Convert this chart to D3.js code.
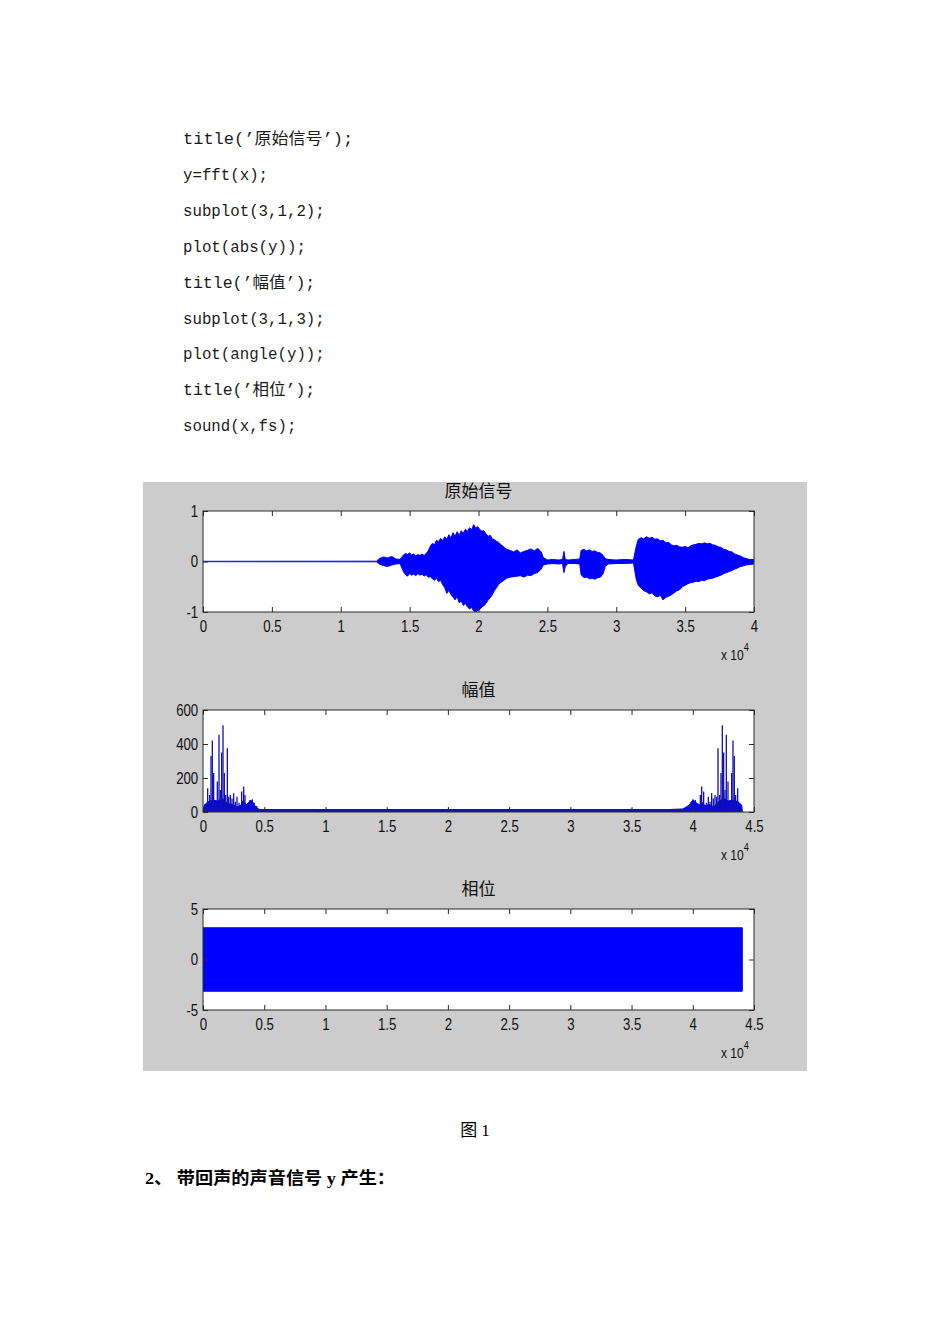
<!DOCTYPE html>
<html><head><meta charset="utf-8">
<script src="https://cdn.jsdelivr.net/npm/d3@7"></script>
<style>body{margin:0;background:#fff}</style>
</head><body>
<svg id="c" width="950" height="1344"></svg>
<script>
// ---------- data ----------
const codeLines = ["title(’原始信号’);","y=fft(x);","subplot(3,1,2);","plot(abs(y));","title(’幅值’);","subplot(3,1,3);","plot(angle(y));","title(’相位’);","sound(x,fs);"];
const codeUnits = [18,9,15,13,14,15,15,14,12];
const titles = ["原始信号","幅值","相位"];
const caption = "图 1";
const heading = "2、 带回声的声音信号 y 产生：";

// waveform envelope (sample index, upper, lower)
const sigX  = [0,12600,12800,13100,13400,13700,14000,14300,
  14550,14700,14850,15000,15150,15300,15450,15600,15750,15900,16050,16200,16350,
  16500,16650,16800,16950,17100,17250,17400,17550,17700,17850,18000,18150,18300,18450,18600,18750,18900,19050,19200,19350,19500,19650,19800,19950,20100,20250,20400,20550,20700,20850,21000,21150,21300,21450,21600,21750,21900,
  22050,22300,22550,22800,23050,23300,23550,23800,24050,24300,24550,24700,
  25000,25400,25800,26100,26200,26300,26500,27000,27350,
  27450,27650,27850,28050,28250,28450,28650,28850,29050,29200,29400,
  30000,30600,31250,
  31450,31600,31800,32000,32200,32400,32600,32800,33000,33200,33400,33600,33800,34000,34200,34400,34600,34800,35000,35200,35400,35600,35800,36000,36200,36400,36600,36800,37000,37200,37400,37600,37800,38000,38200,38400,38600,38800,39000,39200,39400,39700,40000];
const sigHi = [0.004,0.006,0.06,0.09,0.07,0.1,0.05,0.04,
  0.13,0.16,0.14,0.17,0.13,0.15,0.11,0.14,0.12,0.15,0.12,0.16,0.21,
  0.3,0.36,0.33,0.42,0.39,0.46,0.41,0.49,0.44,0.53,0.46,0.57,0.5,0.59,0.52,0.61,0.56,0.64,0.6,0.67,0.63,0.73,0.66,0.69,0.63,0.6,0.61,0.54,0.5,0.52,0.45,0.43,0.4,0.38,0.34,0.31,0.27,
  0.24,0.22,0.19,0.23,0.17,0.2,0.22,0.25,0.21,0.26,0.19,0.08,
  0.03,0.04,0.03,0.04,0.2,0.04,0.03,0.04,0.05,
  0.22,0.24,0.21,0.23,0.2,0.21,0.18,0.17,0.12,0.06,0.04,
  0.03,0.04,0.03,
  0.3,0.44,0.47,0.45,0.49,0.46,0.48,0.44,0.45,0.41,0.42,0.37,0.38,0.33,0.31,0.32,0.29,0.28,0.3,0.27,0.31,0.33,0.34,0.36,0.35,0.37,0.35,0.36,0.33,0.32,0.29,0.28,0.24,0.23,0.2,0.19,0.15,0.13,0.11,0.08,0.06,0.04,0.04];
const sigLo = [-0.004,-0.006,-0.05,-0.08,-0.1,-0.07,-0.05,-0.04,
  -0.2,-0.26,-0.29,-0.24,-0.27,-0.25,-0.28,-0.24,-0.27,-0.25,-0.29,-0.26,-0.31,
  -0.3,-0.34,-0.37,-0.33,-0.4,-0.37,-0.46,-0.52,-0.63,-0.57,-0.66,-0.7,-0.76,-0.69,-0.82,-0.78,-0.87,-0.83,-0.9,-0.94,-0.91,-0.98,-1.0,-0.97,-0.95,-0.9,-0.87,-0.83,-0.76,-0.72,-0.66,-0.58,-0.52,-0.46,-0.42,-0.39,-0.36,
  -0.33,-0.31,-0.3,-0.29,-0.28,-0.31,-0.27,-0.28,-0.24,-0.22,-0.15,-0.07,
  -0.05,-0.04,-0.05,-0.04,-0.22,-0.1,-0.04,-0.04,-0.05,
  -0.26,-0.32,-0.31,-0.34,-0.33,-0.35,-0.32,-0.31,-0.24,-0.1,-0.05,
  -0.04,-0.04,-0.03,
  -0.35,-0.47,-0.53,-0.58,-0.6,-0.64,-0.62,-0.68,-0.7,-0.67,-0.76,-0.71,-0.69,-0.66,-0.62,-0.58,-0.56,-0.5,-0.47,-0.44,-0.42,-0.41,-0.39,-0.4,-0.37,-0.38,-0.35,-0.34,-0.33,-0.31,-0.29,-0.27,-0.24,-0.22,-0.2,-0.18,-0.15,-0.13,-0.1,-0.09,-0.07,-0.06,-0.05];

// |fft| : dense low-level base and individual peaks
const specBaseX = [0,100,400,800,1200,1600,2000,2400,2800,3100,3300,3500,3700,3900,4100,4300,4600,5000,6000,6500,7000,7600,8000,8500,9000,9500,10000,10300,34000,34200,35000,35500,36000,36600,37500,38500,39200,39700,40000,40300,40500,40800,41000,41300,41700,42100,42500,42900,43300,43700,44000,44046];
const specBaseY = [0,40,60,70,65,80,50,45,30,40,70,40,55,70,55,30,15,12,10,14,9,12,8,14,15,13,14,3,4,12,16,10,8,14,12,16,18,40,70,55,40,55,35,45,30,60,80,65,70,60,40,0];
const specPeakX = [163,381,545,653,762,871,1034,1170,1307,1416,1524,1633,1742,1851,1987,2096,2232,2368,2504,2640,2776,2940,3158,3321,3430,3620,3838,4029,4192,4383,
                   39663,39854,40017,40208,40426,40616,40725,40888,41106,41270,41406,41542,41678,41814,41950,42059,42195,42304,42413,42522,42630,42739,42876,43012,43175,43284,43393,43501,43665,43883];
const specPeakY = [45,140,100,330,420,230,60,180,455,130,350,510,230,100,375,90,100,80,110,60,90,55,120,150,100,50,70,75,55,35,
                   35,55,75,70,50,100,150,120,55,90,60,110,80,100,90,375,100,230,510,350,130,455,180,60,230,420,330,100,140,45];

// angle(fft)
const phaseX  = [0,44046];
const phaseHi = [3.1416,3.1416];
const phaseLo = [-3.1416,-3.1416];

// axes ticks
const sigXTicks = [0,5000,10000,15000,20000,25000,30000,35000,40000];
const sigXLabels = ["0","0.5","1","1.5","2","2.5","3","3.5","4"];
const sigYTicks = [-1,0,1];
const specXTicks = [0,5000,10000,15000,20000,25000,30000,35000,40000,45000];
const specXLabels = ["0","0.5","1","1.5","2","2.5","3","3.5","4","4.5"];
const specYTicks = [0,200,400,600];
const phaseYTicks = [-5,0,5];

// ---------- drawing ----------
const svg = d3.select("#c");
svg.append("rect").attr("width",950).attr("height",1344).attr("fill","#fff");

// code text
const codeG = svg.append("g");
codeLines.forEach((t,i)=>{
  codeG.append("text").attr("x",183).attr("y",144+i*35.9)
    .attr("font-family","'Liberation Mono','Noto Sans CJK SC',monospace")
    .attr("font-size",16).attr("fill","#1a1a1a")
    .attr("textLength",codeUnits[i]*9.45).attr("lengthAdjust","spacingAndGlyphs")
    .text(t);
});

// figure background
svg.append("rect").attr("x",143).attr("y",482).attr("width",664).attr("height",589).attr("fill","#cccccc");

const L=203, R=754;
const panels = [
  {top:511,bot:612,xd:[0,40000],yd:[-1,1],xt:sigXTicks,xl:sigXLabels,yt:sigYTicks,title:titles[0]},
  {top:710,bot:812,xd:[0,45000],yd:[0,600],xt:specXTicks,xl:specXLabels,yt:specYTicks,title:titles[1]},
  {top:909,bot:1010,xd:[0,45000],yd:[-5,5],xt:specXTicks,xl:specXLabels,yt:phaseYTicks,title:titles[2]}
];
const BLUE="#0000ff";
const SX=0.8;
const FONT="'Liberation Sans',Arial,sans-serif";

panels.forEach((p,pi)=>{
  const x=d3.scaleLinear().domain(p.xd).range([L,R]);
  const y=d3.scaleLinear().domain(p.yd).range([p.bot,p.top]);
  const g=svg.append("g");
  g.append("rect").attr("x",L).attr("y",p.top).attr("width",R-L).attr("height",p.bot-p.top).attr("fill","#fff");
  const clip="clip"+pi;
  g.append("clipPath").attr("id",clip).append("rect").attr("x",L).attr("y",p.top).attr("width",R-L).attr("height",p.bot-p.top);
  const dg=g.append("g").attr("clip-path","url(#"+clip+")");

  if(pi===0){
    const pts=sigX.map((v,i)=>[v,sigHi[i],sigLo[i]]);
    dg.append("path").datum(pts)
      .attr("d",d3.area().x(d=>x(d[0])).y0(d=>y(d[2])).y1(d=>y(d[1])))
      .attr("fill",BLUE).attr("stroke",BLUE).attr("stroke-width",1);
    dg.append("path").datum(pts.slice(0,2))
      .attr("d",d3.line().x(d=>x(d[0])).y(()=>y(0))).attr("stroke","#2b2bb0").attr("stroke-width",1.2).attr("fill","none");
  } else if(pi===1){
    const base=specBaseX.map((v,i)=>[v,specBaseY[i]]);
    dg.append("path").datum(base)
      .attr("d",d3.area().x(d=>x(d[0])).y0(y(0)).y1(d=>y(d[1])))
      .attr("fill",BLUE).attr("stroke",BLUE).attr("stroke-width",1);
    const ends=[specBaseX[0],specBaseX[specBaseX.length-1]];
    dg.append("path").datum(ends)
      .attr("d",d3.line().x(d=>x(d)).y(()=>y(0)-1.5))
      .attr("stroke","#1515a8").attr("stroke-width",3).attr("fill","none");
    dg.selectAll("line.pk").data(specPeakX.map((v,i)=>[v,specPeakY[i]])).join("line")
      .attr("x1",d=>x(d[0])).attr("x2",d=>x(d[0]))
      .attr("y1",y(0)).attr("y2",d=>y(d[1]))
      .attr("stroke","#1010b4").attr("stroke-width",1.3);
  } else {
    const pts=phaseX.map((v,i)=>[v,phaseHi[i],phaseLo[i]]);
    dg.append("path").datum(pts)
      .attr("d",d3.area().x(d=>x(d[0])).y0(d=>y(d[2])).y1(d=>y(d[1])))
      .attr("fill",BLUE).attr("stroke",BLUE).attr("stroke-width",1);
  }

  const fmtX=(d)=>p.xl[p.xt.indexOf(d)];
  const styleAxis=(ag)=>{ag.select(".domain").remove();ag.selectAll("line").attr("stroke","#2a2a2a");};
  const bx=g.append("g").attr("transform",`translate(0,${p.bot})`)
    .call(d3.axisBottom(x).tickValues(p.xt).tickFormat(fmtX).tickSizeInner(-5).tickSizeOuter(0).tickPadding(8));
  styleAxis(bx);
  bx.selectAll("text").attr("font-family",FONT).attr("font-size",16.5).attr("fill","#111").attr("transform",`scale(${SX},1)`);
  const tx=g.append("g").attr("transform",`translate(0,${p.top})`)
    .call(d3.axisTop(x).tickValues(p.xt).tickFormat("").tickSizeInner(-5).tickSizeOuter(0));
  styleAxis(tx);
  const ly=g.append("g").attr("transform",`translate(${L},0)`)
    .call(d3.axisLeft(y).tickValues(p.yt).tickFormat(d=>String(d)).tickSizeInner(-5).tickSizeOuter(0).tickPadding(6));
  styleAxis(ly);
  ly.selectAll("text").attr("font-family",FONT).attr("font-size",16.5).attr("fill","#111").attr("transform",`scale(${SX},1)`);
  const ry=g.append("g").attr("transform",`translate(${R},0)`)
    .call(d3.axisRight(y).tickValues(p.yt).tickFormat("").tickSizeInner(-5).tickSizeOuter(0));
  styleAxis(ry);

  g.append("rect").attr("x",L).attr("y",p.top).attr("width",R-L).attr("height",p.bot-p.top)
    .attr("fill","none").attr("stroke","#2a2a2a").attr("stroke-width",1);

  g.append("text").attr("x",(L+R)/2).attr("y",p.top-14).attr("text-anchor","middle")
    .attr("font-family","'Noto Sans CJK SC',sans-serif").attr("font-size",17).attr("fill","#111").text(p.title);

  const ex=g.append("text").attr("transform",`translate(721,${p.bot+48}) scale(${SX},1)`)
    .attr("font-family",FONT).attr("font-size",15).attr("fill","#111");
  ex.append("tspan").text("x 10");
  ex.append("tspan").attr("dy",-9).attr("font-size",11.5).text("4");
});

svg.append("text").attr("x",475).attr("y",1136).attr("text-anchor","middle")
  .attr("font-family","'Liberation Serif','Noto Sans CJK SC',serif").attr("font-size",17).attr("fill","#000").text(caption);
svg.append("text").attr("x",145).attr("y",1184)
  .attr("font-family","'Liberation Serif','Noto Sans CJK SC',serif").attr("font-weight","bold")
  .attr("font-size",17).attr("fill","#000").attr("textLength",250).attr("lengthAdjust","spacingAndGlyphs").text(heading);
</script>
</body></html>
